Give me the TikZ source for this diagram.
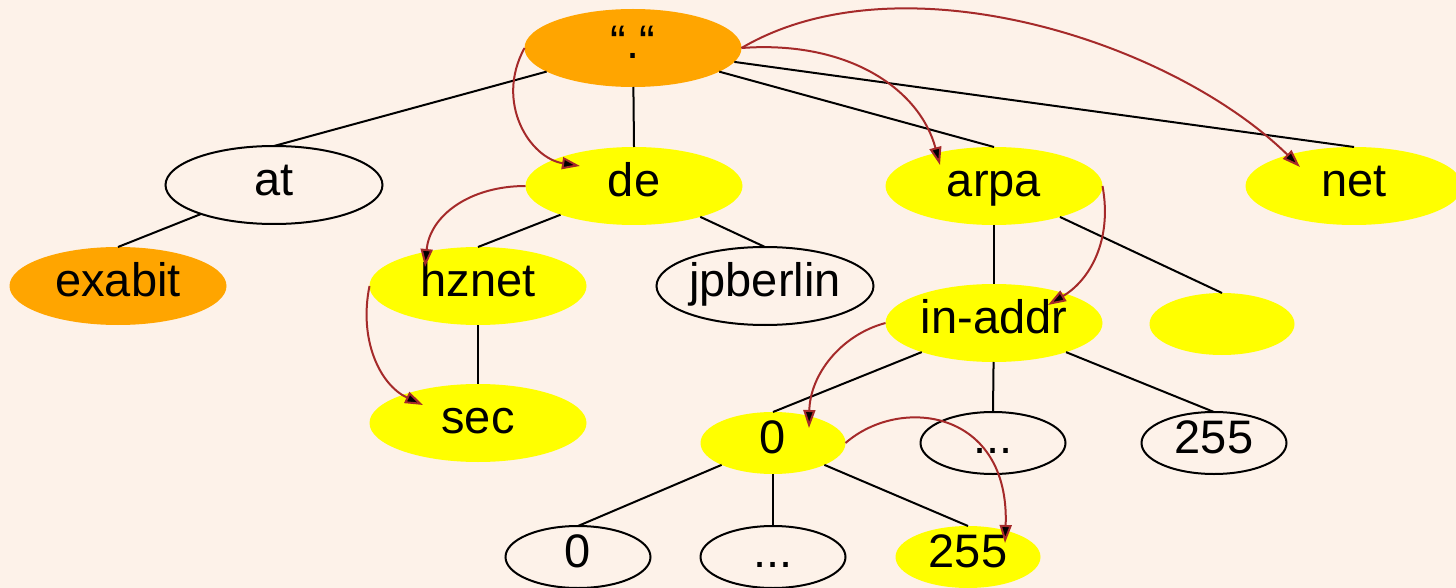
\documentclass[tikz,border=0pt]{standalone}
\usepackage{fontspec}
\setmainfont{Liberation Sans}
\usetikzlibrary{shapes.geometric,arrows.meta,calc}
\definecolor{paper}{RGB}{253,242,233}
\definecolor{rootorange}{RGB}{255,165,0}
\definecolor{zoneyellow}{RGB}{255,255,0}
\definecolor{delegbrown}{RGB}{165,42,42}

\begin{document}
\begin{tikzpicture}[x=1pt,y=-1pt,
  base/.style={ellipse, inner xsep=0pt, inner ysep=-8pt, outer sep=0pt,
    text height=34pt, text depth=13pt, font=\fontsize{47}{50}\selectfont},
  big/.style={base, minimum width=217pt, minimum height=78pt},
  small/.style={base, minimum width=145pt, minimum height=62pt},
  plain/.style={draw=black, line width=2pt},
  zone/.style={fill=zoneyellow},
  hub/.style={fill=rootorange},
  tree/.style={line width=2pt, black},
  deleg/.style={line width=2pt, delegbrown,
    -{Triangle[length=18pt,width=12pt,fill=black]}},
]
% canvas
\useasboundingbox (0,0) rectangle (1456,588);
\fill[paper] (0,0) rectangle (1456,588);

% name-space nodes
\node[big,hub]     (root)     at (633,48)   {“.“};
\node[big,plain]   (at)       at (274,185)  {at};
\node[big,zone]    (de)       at (634,186)  {de};
\node[big,zone]    (arpa)     at (994,186)  {arpa};
\node[big,zone]    (net)      at (1354,186) {net};
\node[big,hub]     (exabit)   at (118,286)  {exabit};
\node[big,zone]    (hznet)    at (478,286)  {hznet};
\node[big,plain]   (jpberlin) at (765,286)  {jpberlin};
\node[big,zone]    (sec)      at (478,423)  {sec};
\node[big,zone]    (inaddr)   at (994,323)  {in-addr};
\node[small,zone]  (blank)    at (1222,324) {};
\node[small,zone]  (zero)     at (773,443)  {0};
\node[small,plain] (dots)     at (993,443)  {...};
\node[small,plain] (last)     at (1214,443) {255};
\node[small,plain] (zerozero) at (578,557)  {0};
\node[small,plain] (zerodots) at (773,557)  {...};
\node[small,zone]  (zerolast) at (968,557)  {255};

% tree edges
\draw[tree] (root) -- (at.north);
\draw[tree] (root) -- (de.north);
\draw[tree] (root) -- (arpa.north);
\draw[tree] (root) -- (net.north);
\draw[tree] (at) -- (exabit.north);
\draw[tree] (de) -- (hznet.north);
\draw[tree] (de) -- (jpberlin.north);
\draw[tree] (hznet) -- (sec.north);
\draw[tree] (arpa) -- (inaddr.north);
\draw[tree] (arpa) -- (blank.north);
\draw[tree] (inaddr) -- (zero.north);
\draw[tree] (inaddr) -- (dots.north);
\draw[tree] (inaddr) -- (last.north);
\draw[tree] (zero) -- (zerozero.north);
\draw[tree] (zero) -- (zerodots.north);
\draw[tree] (zero) -- (zerolast.north);

% delegation arrows
\draw[deleg] (root.west) .. controls +(-30,55) and +(-50,-8) .. ($(de)+(-54,-20)$);
\draw[deleg] (root.east) .. controls +(108,-8) and +(-20,-75) .. ($(arpa)+(-54,-21)$);
\draw[deleg] (root.east) .. controls +(158,-93) and +(-130,-127) .. ($(net)+(-54,-19)$);
\draw[deleg] (de.west) .. controls +(-55,0) and +(5,-52) .. ($(hznet)+(-53,-19)$);
\draw[deleg] (hznet.west) .. controls +(-11,54) and +(-43,-20) .. ($(sec)+(-55,-18)$);
\draw[deleg] (arpa.east) .. controls +(10,54) and +(42,-25) .. ($(inaddr)+(54,-18)$);
\draw[deleg] (inaddr.west) .. controls +(-45,12) and +(1,-53) .. ($(zero)+(36,-15)$);
\draw[deleg] (zero.east) .. controls +(55,-48) and +(5,-133) .. ($(zerolast)+(37,-14)$);
\end{tikzpicture}
\end{document}
